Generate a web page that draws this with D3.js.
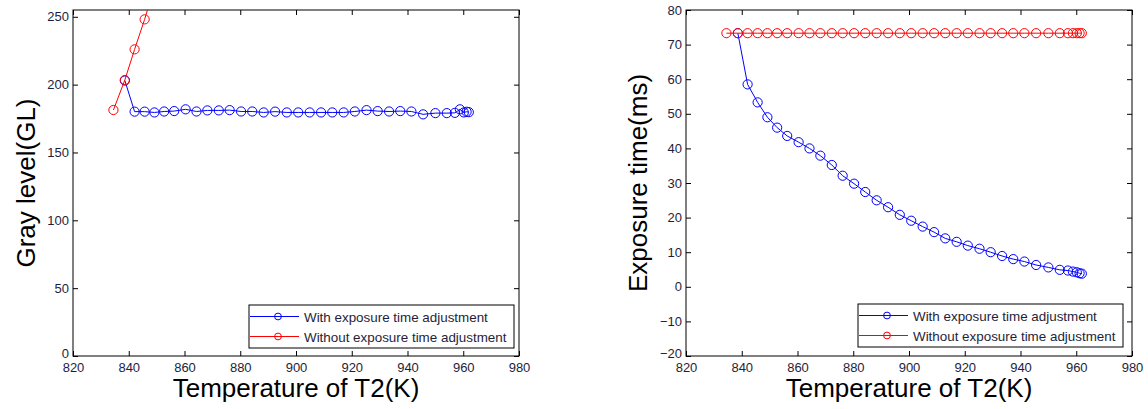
<!DOCTYPE html>
<html><head><meta charset="utf-8">
<script src="https://cdn.jsdelivr.net/npm/d3@7"></script>
<style>
html,body{margin:0;padding:0;background:#fff;}
svg{display:block;font-family:"Liberation Sans",Arial,sans-serif;}
</style></head>
<body>
<svg id="chart" width="1148" height="409"></svg>
<script>
// Temperatures of T2 (K) at each sample
const temps = [834.5, 838.6, 842.1, 845.7, 849.2, 852.7, 856.3, 860.4, 864.3, 868.2, 872.3, 876.2,
  880.3, 884.3, 888.4, 892.5, 896.7, 900.8, 904.9, 909.0, 913.0, 917.1, 921.1, 925.3,
  929.3, 933.4, 937.4, 941.4, 945.6, 950.0, 954.1, 957.0, 958.8, 960.2, 961.2, 962.0];

// Left chart: gray level
const grayWith = [203, 180.1, 180.1, 179.5, 180.2, 180.5, 181.8, 180.2, 181, 181, 181.2, 180.2,
  180.2, 179.5, 180.1, 179.5, 179.5, 179.5, 179.5, 179.5, 179.5, 180.2, 181.2, 180.5,
  180.2, 180.5, 180.2, 178.1, 179, 179, 179.2, 181.8, 179.5, 180, 179.7]; // from temps[1]
const grayWithout = [181.3, 203.4, 226, 248.1, 272]; // from temps[0], last point beyond the axis

// Right chart: exposure time (ms)
const expWith = [73.3, 58.5, 53.3, 49.0, 46.0, 43.6, 41.8, 40.0, 37.9, 35.2, 32.1, 29.8,
  27.4, 25.0, 23.0, 20.8, 19.1, 17.4, 15.8, 14.0, 13.0, 11.9, 11.0, 10.0,
  8.9, 8.0, 7.3, 6.3, 5.6, 4.9, 4.7, 4.4, 4.2, 3.9, 3.8]; // from temps[1]
const expWithout = temps.map(() => 73.3);

const xTicks = [820, 840, 860, 880, 900, 920, 940, 960, 980];
const grayTicks = [0, 50, 100, 150, 200, 250];
const expTicks = [-20, -10, 0, 10, 20, 30, 40, 50, 60, 70, 80];
const legendLabels = ["With exposure time adjustment", "Without exposure time adjustment"];
const seriesColors = ["#0000ff", "#ff0000"];

const svg = d3.select("#chart");

function panel(opts) {
  const {x0, x1, y0, y1, yDomain, yTicks, yTitle, yTitleX, series, legend, id} = opts;
  const x = d3.scaleLinear().domain([820, 980]).range([x0, x1]);
  const y = d3.scaleLinear().domain(yDomain).range([y1, y0]);
  const g = svg.append("g");

  g.append("clipPath").attr("id", id).append("rect")
    .attr("x", x0).attr("y", y0).attr("width", x1 - x0).attr("height", y1 - y0);

  const styleAxis = sel => {
    sel.select(".domain").remove();
    sel.selectAll(".tick line").attr("stroke", "#000");
    sel.selectAll("text").attr("fill", "#1e1e3c").style("font-size", "13px")
      .style("font-family", "'Liberation Sans', Arial, sans-serif");
  };
  g.append("g").attr("transform", `translate(0,${y1})`)
    .call(d3.axisBottom(x).tickValues(xTicks).tickSize(-5).tickPadding(7).tickFormat(d3.format("d")))
    .call(styleAxis);
  g.append("g").attr("transform", `translate(0,${y0})`)
    .call(d3.axisTop(x).tickValues(xTicks).tickSize(-5).tickFormat(""))
    .call(styleAxis);
  const yAx = g.append("g").attr("transform", `translate(${x0},0)`)
    .call(d3.axisLeft(y).tickValues(yTicks).tickSize(-5).tickPadding(4).tickFormat(d3.format("d")))
    .call(styleAxis);
  // lowest y label sits slightly raised, as in the reference
  yAx.selectAll(".tick text").filter(d => d === yDomain[0]).attr("dy", "0.1em");
  g.append("g").attr("transform", `translate(${x1},0)`)
    .call(d3.axisRight(y).tickValues(yTicks).tickSize(-5).tickFormat(""))
    .call(styleAxis);

  g.append("rect").attr("x", x0).attr("y", y0).attr("width", x1 - x0).attr("height", y1 - y0)
    .attr("fill", "none").attr("stroke", "#000").attr("stroke-width", 1);

  const line = d3.line().x(d => x(d[0])).y(d => y(d[1]));
  const data = g.append("g").attr("clip-path", `url(#${id})`);
  series.forEach((s, i) => {
    const pts = s.vals.map((v, k) => [temps[k + s.offset], v]);
    data.append("path").datum(pts).attr("d", line)
      .attr("fill", "none").attr("stroke", seriesColors[i]).attr("stroke-width", 1);
    data.selectAll(null).data(pts).enter().append("circle")
      .attr("cx", d => x(d[0])).attr("cy", d => y(d[1])).attr("r", 4.6)
      .attr("fill", "none").attr("stroke", seriesColors[i]).attr("stroke-width", 1);
  });

  // axis titles
  g.append("text").attr("x", (x0 + x1) / 2).attr("y", 397).attr("text-anchor", "middle")
    .style("font-size", "26px").attr("fill", "#000").text("Temperature of T2(K)");
  g.append("text").attr("transform", `translate(${yTitleX},${(y0 + y1) / 2}) rotate(-90)`)
    .attr("text-anchor", "middle").style("font-size", "26px").attr("fill", "#000").text(yTitle);

  // legend
  const L = legend;
  const lg = g.append("g");
  lg.append("rect").attr("x", L.x).attr("y", L.y).attr("width", L.w).attr("height", L.h)
    .attr("fill", "#fff").attr("stroke", "#000").attr("stroke-width", 1);
  legendLabels.forEach((lab, i) => {
    const cy = L.y + 11.5 + i * 20;
    lg.append("line").attr("x1", L.x + 1).attr("x2", L.x + 50).attr("y1", cy).attr("y2", cy)
      .attr("stroke", seriesColors[i]).attr("stroke-width", 1);
    lg.append("circle").attr("cx", L.x + 29).attr("cy", cy).attr("r", 3.4)
      .attr("fill", "none").attr("stroke", seriesColors[i]).attr("stroke-width", 1);
    lg.append("text").attr("x", L.x + 55).attr("y", cy + 5).style("font-size", "13.4px")
      .attr("fill", "#1e1e3c").text(lab);
  });
}

panel({
  id: "clipL", x0: 73, x1: 519, y0: 10, y1: 356, yDomain: [0, 255], yTicks: grayTicks,
  yTitle: "Gray level(GL)", yTitleX: 35,
  series: [{vals: grayWith, offset: 1}, {vals: grayWithout, offset: 0}],
  legend: {x: 249, y: 305, w: 265, h: 43}
});
panel({
  id: "clipR", x0: 686, x1: 1132, y0: 10, y1: 356, yDomain: [-20, 80], yTicks: expTicks,
  yTitle: "Exposure time(ms)", yTitleX: 647,
  series: [{vals: expWith, offset: 1}, {vals: expWithout, offset: 0}],
  legend: {x: 858, y: 304, w: 265, h: 43}
});
</script>
</body></html>
